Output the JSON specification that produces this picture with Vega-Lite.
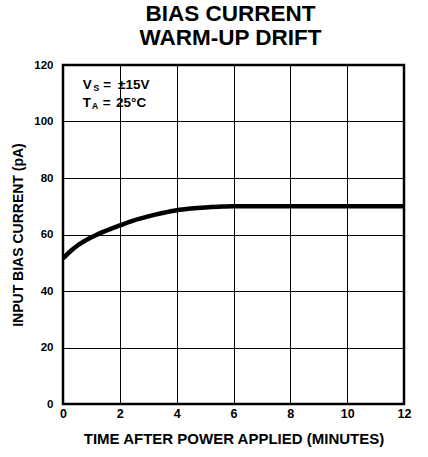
{
  "$schema": "https://vega.github.io/schema/vega-lite/v6.json",
  "autosize": "none",
  "width": 341,
  "height": 339,
  "padding": {"left": 63, "top": 65, "right": 24, "bottom": 53},
  "background": "white",
  "config": {
    "font": "Liberation Sans",
    "view": {"stroke": "black", "strokeWidth": 2.5},
    "axis": {
      "domain": false,
      "ticks": false,
      "grid": true,
      "gridColor": "black",
      "gridOpacity": 1,
      "gridWidth": 1,
      "labelFlush": false,
      "labelFont": "Liberation Sans",
      "labelFontWeight": "bold",
      "labelColor": "black",
      "titleFont": "Liberation Sans",
      "titleFontWeight": "bold",
      "titleColor": "black"
    }
  },
  "title": {
    "text": ["BIAS CURRENT", "WARM-UP DRIFT"],
    "fontSize": 22.5,
    "font": "Liberation Sans",
    "fontWeight": "bold",
    "color": "black",
    "anchor": "middle",
    "frame": "group",
    "lineHeight": 24,
    "baseline": "alphabetic",
    "offset": -8,
    "dx": -3
  },
  "datasets": {
    "curve": [
      {"t": 0, "i": 51.5},
      {"t": 0.25, "i": 54},
      {"t": 0.5, "i": 56},
      {"t": 1, "i": 59},
      {"t": 1.5, "i": 61.3},
      {"t": 2, "i": 63.2},
      {"t": 2.5, "i": 65},
      {"t": 3, "i": 66.4},
      {"t": 3.5, "i": 67.6},
      {"t": 4, "i": 68.6},
      {"t": 4.5, "i": 69.2},
      {"t": 5, "i": 69.6},
      {"t": 5.5, "i": 69.85},
      {"t": 6, "i": 70},
      {"t": 7, "i": 70},
      {"t": 8, "i": 70},
      {"t": 9, "i": 70},
      {"t": 10, "i": 70},
      {"t": 11, "i": 70},
      {"t": 12, "i": 70}
    ],
    "labels": [
      {"t": 0.693, "i": 111.4, "txt": "V"},
      {"t": 1.418, "i": 111.4, "txt": "="},
      {"t": 1.935, "i": 111.4, "txt": "±15V"},
      {"t": 0.693, "i": 105.1, "txt": "T"},
      {"t": 1.397, "i": 105.1, "txt": "="},
      {"t": 1.865, "i": 105.1, "txt": "25°C"}
    ],
    "subs": [
      {"t": 1.066, "i": 110.9, "txt": "S"},
      {"t": 1.01, "i": 104.6, "txt": "A"}
    ]
  },
  "layer": [
    {
      "data": {"name": "curve"},
      "mark": {"type": "line", "color": "black", "strokeWidth": 4.5, "interpolate": "monotone", "clip": true},
      "encoding": {
        "x": {
          "field": "t", "type": "quantitative",
          "scale": {"domain": [0, 12], "nice": false},
          "axis": {"values": [0, 2, 4, 6, 8, 10, 12], "title": "TIME AFTER POWER APPLIED (MINUTES)", "labelFontSize": 12.5, "titleFontSize": 15, "labelPadding": 3, "titlePadding": 12}
        },
        "y": {
          "field": "i", "type": "quantitative",
          "scale": {"domain": [0, 120], "nice": false},
          "axis": {
            "values": [0, 10, 20, 30, 40, 50, 60, 70, 80, 90, 100, 110, 120],
            "labelExpr": "datum.value % 20 === 0 ? datum.label : ''",
            "title": "INPUT BIAS CURRENT (pA)",
            "labelFontSize": 11.5,
            "titleFontSize": 14,
            "labelPadding": 10,
            "titlePadding": 8
          }
        }
      }
    },
    {
      "data": {"name": "labels"},
      "mark": {"type": "text", "align": "left", "baseline": "alphabetic", "fontSize": 13.5, "fontWeight": "bold", "color": "black", "font": "Liberation Sans"},
      "encoding": {
        "x": {"field": "t", "type": "quantitative"},
        "y": {"field": "i", "type": "quantitative"},
        "text": {"field": "txt"}
      }
    },
    {
      "data": {"name": "subs"},
      "mark": {"type": "text", "align": "left", "baseline": "alphabetic", "fontSize": 9, "fontWeight": "bold", "color": "black", "font": "Liberation Sans"},
      "encoding": {
        "x": {"field": "t", "type": "quantitative"},
        "y": {"field": "i", "type": "quantitative"},
        "text": {"field": "txt"}
      }
    }
  ]
}
